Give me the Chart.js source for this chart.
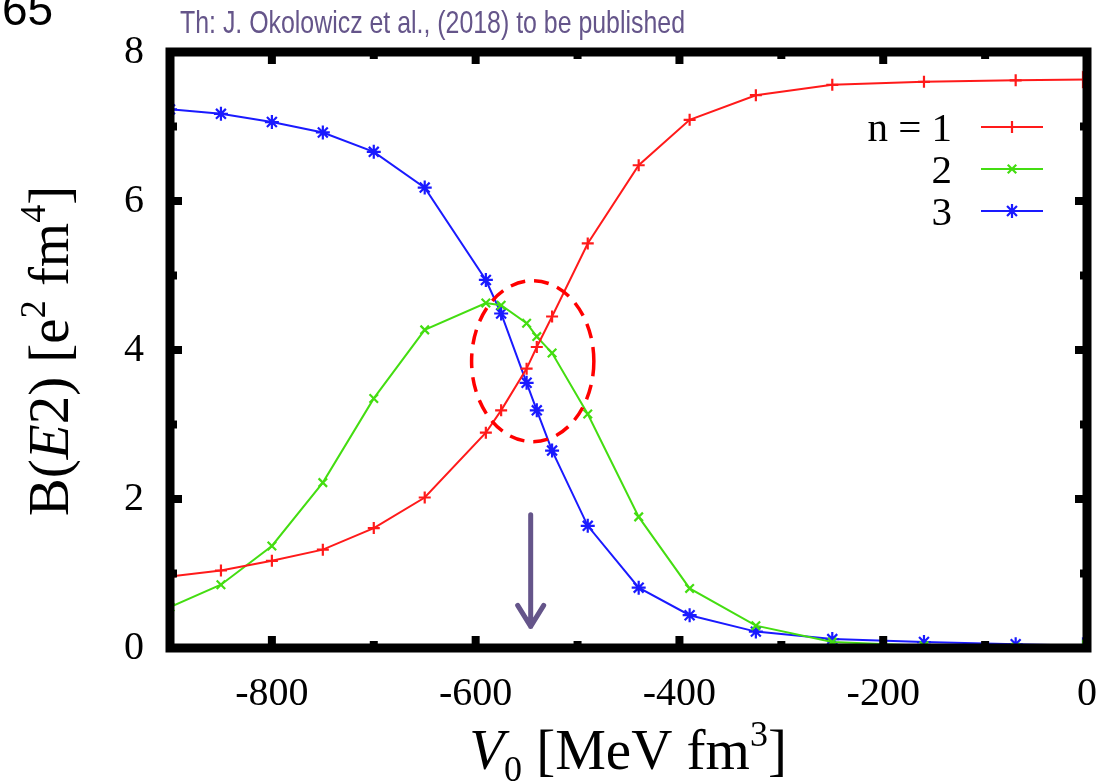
<!DOCTYPE html>
<html>
<head>
<meta charset="utf-8">
<title>B(E2) vs V0</title>
<script src="https://cdn.jsdelivr.net/npm/chart.js@4.4.1/dist/chart.umd.min.js"></script>
<style>
  html, body { margin: 0; padding: 0; background: #fff; }
  #wrap { position: relative; width: 1119px; height: 782px; overflow: hidden; }
</style>
</head>
<body>
<div id="wrap"><canvas id="chart" width="1119" height="782"></canvas></div>
<script>
// --- DATA ---
// V0 grid [MeV fm^3]
const V0 = [-900, -850, -800, -750, -700, -650, -590, -575, -550, -540, -525, -490, -440, -390, -325, -250, -160, -70, 0];
// B(E2) [e^2 fm^4] for the three lowest states
const BE2_N1 = [0.96, 1.04, 1.17, 1.32, 1.61, 2.02, 2.89, 3.19, 3.75, 4.04, 4.45, 5.43, 6.48, 7.09, 7.42, 7.56, 7.60, 7.62, 7.63];
const BE2_N2 = [0.55, 0.85, 1.37, 2.22, 3.35, 4.27, 4.63, 4.60, 4.36, 4.18, 3.96, 3.14, 1.76, 0.80, 0.30, 0.08, 0.03, 0.01, 0.00];
const BE2_N3 = [7.23, 7.17, 7.06, 6.92, 6.66, 6.18, 4.94, 4.49, 3.56, 3.19, 2.65, 1.64, 0.81, 0.44, 0.22, 0.12, 0.08, 0.05, 0.03];

const SERIES_LABELS = ['n = 1', '2', '3'];

const X_TICKS = [-800, -600, -400, -200, 0];
const X_MINOR = [-900, -700, -500, -300, -100];
const Y_TICKS = [0, 2, 4, 6, 8];
const Y_MINOR = [1, 3, 5, 7];

const SOURCE_NOTE = 'Th: J. Okolowicz et al., (2018) to be published';
const SLIDE_NO = '65';

// crossing region (centre and radii in axis units) and the arrow pointing at it
const CROSSING = { x: -544, y: 3.85, rx: 60, ry: 1.08 };
const ARROW = { x: -546, from: 1.79, to: 0.29 };

// --- STYLE ---
const SERIF = '"Liberation Serif", "DejaVu Serif", serif';
const NOTE_COLOR = '#65558a';

function series(label, values, color, style, radius) {
    const last = V0.length - 1;
    return {
        label: label,
        data: V0.map((v, i) => ({ x: v, y: values[i] })),
        borderColor: color,
        backgroundColor: color,
        borderWidth: 2,
        tension: 0,
        pointRadius: V0.map((v, i) => i === last ? 8 : radius),
        pointBorderWidth: 2.2,
        pointStyle: V0.map((v, i) => i === last ? 'triangle' : style),
        pointRotation: V0.map((v, i) => i === last ? 90 : 0)
    };
}

// --- DECORATIONS: frame, inward ticks, legend, titles, annotations ---
function drawText(ctx, parts, x, y, align) {
    // parts: [text, font, dy]
    const widths = parts.map(p => { ctx.font = p[1]; return ctx.measureText(p[0]).width; });
    const total = widths.reduce((a, b) => a + b, 0);
    let cx = align === 'center' ? x - total / 2 : (align === 'right' ? x - total : x);
    ctx.textAlign = 'left';
    ctx.textBaseline = 'alphabetic';
    parts.forEach((p, i) => {
        ctx.font = p[1];
        ctx.fillText(p[0], cx, y + (p[2] || 0));
        cx += widths[i];
    });
}

const decorations = {
    id: 'decorations',
    afterDatasetsDraw(chart) {
        const { ctx, chartArea: a, scales: { x, y } } = chart;
        ctx.save();

        // dashed ellipse round the crossing
        const ex = x.getPixelForValue(CROSSING.x);
        const ey = y.getPixelForValue(CROSSING.y);
        const erx = x.getPixelForValue(CROSSING.x + CROSSING.rx) - ex;
        const ery = ey - y.getPixelForValue(CROSSING.y + CROSSING.ry);
        ctx.strokeStyle = '#ff0000';
        ctx.lineWidth = 3.5;
        ctx.setLineDash([15, 9]);
        ctx.beginPath();
        ctx.ellipse(ex, ey, erx, ery, 0, 0, Math.PI * 2);
        ctx.stroke();
        ctx.setLineDash([]);

        // arrow
        const ax = x.getPixelForValue(ARROW.x);
        const ay0 = y.getPixelForValue(ARROW.from);
        const ay1 = y.getPixelForValue(ARROW.to);
        ctx.strokeStyle = NOTE_COLOR;
        ctx.lineWidth = 5;
        ctx.lineCap = 'round';
        ctx.lineJoin = 'round';
        ctx.beginPath();
        ctx.moveTo(ax, ay0);
        ctx.lineTo(ax, ay1);
        ctx.moveTo(ax - 13, ay1 - 21);
        ctx.lineTo(ax, ay1);
        ctx.lineTo(ax + 13, ay1 - 21);
        ctx.stroke();

        // frame
        ctx.lineCap = 'butt';
        ctx.lineJoin = 'miter';
        ctx.strokeStyle = '#000';
        ctx.lineWidth = 9;
        ctx.strokeRect(a.left, a.top, a.right - a.left, a.bottom - a.top);

        // inward ticks on all four sides
        ctx.lineWidth = 8;
        const mark = (x0, y0, x1, y1) => {
            ctx.beginPath();
            ctx.moveTo(x0, y0);
            ctx.lineTo(x1, y1);
            ctx.stroke();
        };
        const xTick = (v, len) => {
            const px = x.getPixelForValue(v);
            mark(px, a.bottom, px, a.bottom - len);
            mark(px, a.top, px, a.top + len);
        };
        const yTick = (v, len) => {
            const py = y.getPixelForValue(v);
            mark(a.left, py, a.left + len, py);
            mark(a.right, py, a.right - len, py);
        };
        X_TICKS.forEach(v => xTick(v, 12));
        X_MINOR.forEach(v => xTick(v, 7));
        Y_TICKS.forEach(v => yTick(v, 12));
        Y_MINOR.forEach(v => yTick(v, 7));

        // legend
        const rows = [127, 169, 211];
        chart.data.datasets.forEach((ds, i) => {
            ctx.fillStyle = '#000';
            drawText(ctx, [[SERIES_LABELS[i], '41px ' + SERIF]], 952, rows[i] + 14, 'right');
            ctx.strokeStyle = ds.borderColor;
            ctx.fillStyle = ds.borderColor;
            ctx.lineWidth = 2;
            mark(981, rows[i], 1043, rows[i]);
            ctx.lineWidth = 2.2;
            Chart.helpers.drawPoint(ctx, {
                pointStyle: ds.pointStyle[0], rotation: 0, radius: ds.pointRadius[0], borderWidth: 2.2
            }, 1012, rows[i]);
        });

        ctx.restore();
    },
    afterDraw(chart) {
        const ctx = chart.ctx;
        ctx.save();
        ctx.fillStyle = '#000';

        // x axis title: V0 [MeV fm3]
        drawText(ctx, [
            ['V', 'italic 57px ' + SERIF],
            ['0', '36px ' + SERIF, 12],
            [' [MeV fm', '57px ' + SERIF],
            ['3', '36px ' + SERIF, -23],
            [']', '57px ' + SERIF]
        ], 628, 769, 'center');

        // y axis title: B(E2) [e2 fm4]
        ctx.save();
        ctx.translate(68, 351);
        ctx.rotate(-Math.PI / 2);
        drawText(ctx, [
            ['B(', '57px ' + SERIF],
            ['E', 'italic 57px ' + SERIF],
            ['2) [e', '57px ' + SERIF],
            ['2', '36px ' + SERIF, -23],
            [' fm', '57px ' + SERIF],
            ['4', '36px ' + SERIF, -23],
            [']', '57px ' + SERIF]
        ], 0, 0, 'center');
        ctx.restore();

        // source note, squeezed to its printed width
        ctx.fillStyle = NOTE_COLOR;
        ctx.font = '32px "Liberation Sans Narrow", "Liberation Sans", sans-serif';
        ctx.textAlign = 'left';
        ctx.textBaseline = 'alphabetic';
        const w = ctx.measureText(SOURCE_NOTE).width;
        ctx.save();
        ctx.translate(180, 33);
        ctx.scale(505 / w, 1);
        ctx.fillText(SOURCE_NOTE, 0, 0);
        ctx.restore();

        // slide number, cut by the top edge
        ctx.fillStyle = '#000';
        ctx.font = '46px "Liberation Sans", sans-serif';
        ctx.fillText(SLIDE_NO, 2, 25);

        ctx.restore();
    }
};

// --- CHART ---
const tickFont = { family: SERIF, size: 40 };

new Chart(document.getElementById('chart'), {
    type: 'line',
    data: {
        datasets: [
            series(SERIES_LABELS[0], BE2_N1, '#ff1a1a', 'cross', 6),
            series(SERIES_LABELS[1], BE2_N2, '#44dd11', 'crossRot', 6),
            series(SERIES_LABELS[2], BE2_N3, '#1a1aff', 'star', 7)
        ]
    },
    options: {
        responsive: false,
        animation: false,
        layout: { padding: { top: 52, right: 27, left: 0, bottom: 0 } },
        plugins: {
            legend: { display: false },
            tooltip: { enabled: false }
        },
        scales: {
            x: {
                type: 'linear',
                min: -900,
                max: 0,
                grid: { display: false, drawTicks: false },
                border: { display: false },
                afterBuildTicks: s => { s.ticks = X_TICKS.map(v => ({ value: v })); },
                afterFit: s => { s.height = 134; },
                ticks: { font: tickFont, color: '#000', padding: 22, maxRotation: 0, autoSkip: false }
            },
            y: {
                type: 'linear',
                min: 0,
                max: 8,
                grid: { display: false, drawTicks: false },
                border: { display: false },
                afterBuildTicks: s => { s.ticks = Y_TICKS.map(v => ({ value: v })); },
                afterFit: s => { s.width = 170; },
                ticks: { font: tickFont, color: '#000', padding: 26, autoSkip: false }
            }
        }
    },
    plugins: [decorations]
});
</script>
</body>
</html>
